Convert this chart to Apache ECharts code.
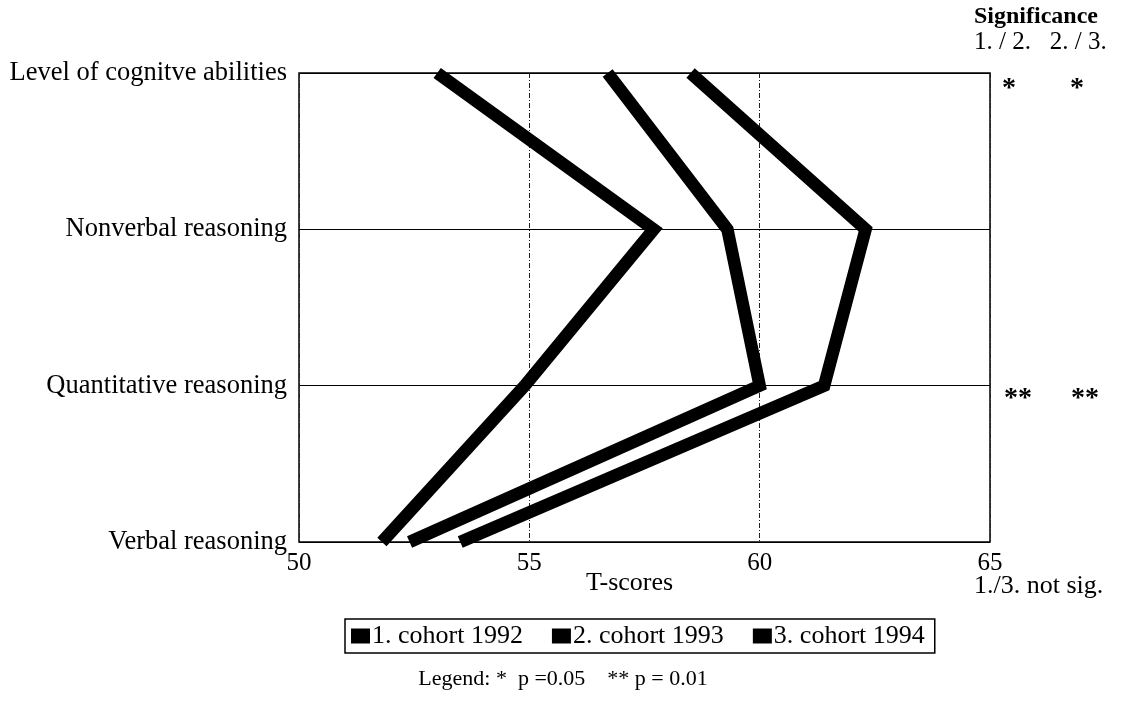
<!DOCTYPE html>
<html>
<head>
<meta charset="utf-8">
<script src="https://cdn.jsdelivr.net/npm/echarts@6/dist/echarts.min.js"></script>
<style>
html,body{margin:0;padding:0;background:#fff;}
#chart{width:1121px;height:714px;}
</style>
</head>
<body>
<div id="chart"></div>
<script>
// Categories (bottom to top on the axis)
const categories = ['Verbal reasoning', 'Quantitative reasoning', 'Nonverbal reasoning', 'Level of cognitve abilities'];
const seriesNames = ['1. cohort 1992', '2. cohort 1993', '3. cohort 1994'];
// T-scores, same order as categories
const cohort1992 = [52.4, 60.0, 59.3, 56.7];
const cohort1993 = [51.8, 54.9, 57.7, 53.0];
const cohort1994 = [53.5, 61.4, 62.3, 58.5];
const xTicks = [50, 55, 60, 65];

const FONT = '"Liberation Serif", "Times New Roman", serif';
const chart = echarts.init(document.getElementById('chart'));

function mkSeries(name, data) {
  return {
    name: name,
    type: 'line',
    data: data.map((v, i) => [v, categories[i]]),
    symbol: 'none',
    clip: false,
    color: '#000',
    lineStyle: { color: '#000', width: 12.5, join: 'miter', cap: 'butt' },
    emphasis: { disabled: true },
    z: 3
  };
}

chart.setOption({
  animation: false,
  backgroundColor: '#fff',
  textStyle: { fontFamily: FONT, color: '#000' },
  grid: {
    left: 299, right: 131, top: 73, bottom: 172,
    show: true, borderColor: '#000', borderWidth: 1.5, backgroundColor: 'transparent'
  },
  xAxis: {
    type: 'value',
    min: xTicks[0], max: xTicks[xTicks.length - 1], interval: 5,
    axisLine: { show: false },
    axisTick: { show: false },
    axisLabel: { fontFamily: FONT, fontSize: 25, color: '#000', margin: 9, showMinLabel: true, showMaxLabel: true },
    splitLine: { show: true, lineStyle: { color: '#222', width: 1, type: [5, 2, 1, 2] } }
  },
  yAxis: {
    type: 'category',
    data: categories,
    boundaryGap: false,
    axisLine: { show: false },
    axisTick: { show: false },
    axisLabel: { fontFamily: FONT, fontSize: 26.5, color: '#000', margin: 12 },
    splitLine: { show: true, lineStyle: { color: '#000', width: 1.2, type: 'solid' } }
  },
  legend: {
    data: seriesNames,
    left: 345, top: 619,
    orient: 'horizontal',
    icon: 'rect',
    itemWidth: 19, itemHeight: 15, itemGap: 29,
    padding: [4, 10, 4, 6],
    borderColor: '#000', borderWidth: 1.5,
    textStyle: { fontFamily: FONT, fontSize: 26, color: '#000', padding: [0, 0, 0, -3] },
    selectedMode: false
  },
  graphic: [
    { type: 'text', left: 586, top: 570, style: { text: 'T-scores', font: '26px ' + FONT, fill: '#000' } },
    { type: 'text', left: 974, top: 5, style: { text: 'Significance', font: 'bold 24px ' + FONT, fill: '#000' } },
    { type: 'text', left: 974, top: 30, style: { text: '1. / 2.   2. / 3.', font: '25px ' + FONT, fill: '#000' } },
    { type: 'text', left: 1002, top: 75, style: { text: '*', font: 'bold 28px ' + FONT, fill: '#000' } },
    { type: 'text', left: 1070, top: 75, style: { text: '*', font: 'bold 28px ' + FONT, fill: '#000' } },
    { type: 'text', left: 1004, top: 385, style: { text: '**', font: 'bold 28px ' + FONT, fill: '#000' } },
    { type: 'text', left: 1071, top: 385, style: { text: '**', font: 'bold 28px ' + FONT, fill: '#000' } },
    { type: 'text', left: 974, top: 573, style: { text: '1./3. not sig.', font: '26px ' + FONT, fill: '#000' } },
    { type: 'text', x: 563, top: 668, style: { text: 'Legend: *  p =0.05    ** p = 0.01', font: '22px ' + FONT, fill: '#000', textAlign: 'center' } }
  ],
  series: [
    mkSeries(seriesNames[0], cohort1992),
    mkSeries(seriesNames[1], cohort1993),
    mkSeries(seriesNames[2], cohort1994)
  ]
});
</script>
</body>
</html>
